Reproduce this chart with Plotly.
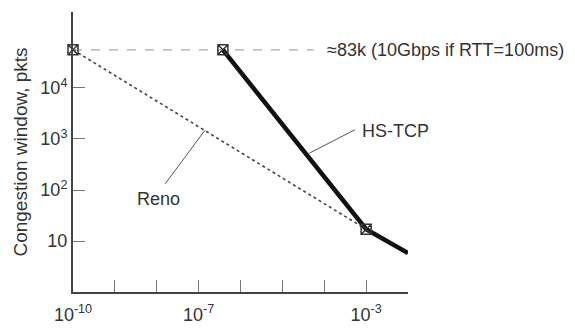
import plotly.graph_objects as go

# Data
reno_x = [1e-10, 1e-3]
reno_y = [56000, 17]
hstcp_x = [3.8e-7, 1e-3, 1e-2]
hstcp_y = [56000, 17, 5.8]
marker_x = [1e-10, 3.8e-7, 1e-3]
marker_y = [56000, 56000, 17]
cap_x = [1e-10, 5.6e-5]
cap_y = [56000, 56000]

x_tickvals = [1e-10, 1e-9, 1e-8, 1e-7, 1e-6, 1e-5, 1e-4, 1e-3]
x_ticktext = ["10<sup>-10</sup>", "", "", "10<sup>-7</sup>", "", "", "", "10<sup>-3</sup>"]
y_tickvals = [10, 100, 1000, 10000]
y_ticktext = ["10", "10<sup>2</sup>", "10<sup>3</sup>", "10<sup>4</sup>"]

FONT = "Liberation Sans, Arial, sans-serif"
TXT = "#333333"

fig = go.Figure()
fig.add_trace(go.Scatter(x=cap_x, y=cap_y, mode="lines",
                         line=dict(color="#aaaaaa", width=1.2, dash="dash"),
                         showlegend=False, hoverinfo="skip"))
fig.add_trace(go.Scatter(x=reno_x, y=reno_y, mode="lines",
                         line=dict(color="#444444", width=1.6, dash="dot"),
                         showlegend=False))
fig.add_trace(go.Scatter(x=hstcp_x, y=hstcp_y, mode="lines",
                         line=dict(color="#111111", width=4.5),
                         showlegend=False))
# leader lines
fig.add_trace(go.Scatter(x=[10**-3.27, 10**-4.36], y=[10**3.18, 10**2.72], mode="lines",
                         line=dict(color="#555555", width=1), showlegend=False, hoverinfo="skip"))
fig.add_trace(go.Scatter(x=[10**-7.80, 10**-6.85], y=[10**2.12, 10**3.17], mode="lines",
                         line=dict(color="#555555", width=1), showlegend=False, hoverinfo="skip"))
fig.add_trace(go.Scatter(x=marker_x, y=marker_y, mode="markers",
                         marker=dict(symbol="square-x-open", size=10, color="#333333",
                                     line=dict(width=1.5, color="#333333")),
                         showlegend=False, cliponaxis=False))

fig.add_annotation(x=-3.98, y=4.745, xref="x", yref="y", text="≈83k (10Gbps if RTT=100ms)",
                   showarrow=False, xanchor="left", yanchor="middle",
                   font=dict(family=FONT, size=18, color=TXT))
fig.add_annotation(x=-2.31, y=3.16, xref="x", yref="y", text="HS-TCP",
                   showarrow=False, xanchor="center", yanchor="middle",
                   font=dict(family=FONT, size=18, color=TXT))
fig.add_annotation(x=-7.97, y=1.82, xref="x", yref="y", text="Reno",
                   showarrow=False, xanchor="center", yanchor="middle",
                   font=dict(family=FONT, size=18, color=TXT))

fig.update_xaxes(type="log", range=[-10, -2], showgrid=False, zeroline=False,
                 showline=True, linecolor="#444444", linewidth=2, automargin=False,
                 ticks="inside", ticklen=12, tickcolor="#777777", tickwidth=1,
                 tickvals=x_tickvals, ticktext=x_ticktext, ticklabelstandoff=5,
                 tickfont=dict(family=FONT, size=18, color=TXT))
fig.update_yaxes(type="log", range=[0, 5.49], showgrid=False, zeroline=False,
                 showline=True, linecolor="#444444", linewidth=2, automargin=False,
                 ticks="inside", ticklen=12, tickcolor="#777777", tickwidth=1,
                 tickvals=y_tickvals, ticktext=y_ticktext,
                 tickfont=dict(family=FONT, size=18, color=TXT),
                 title=dict(text="Congestion window, pkts", standoff=8,
                            font=dict(family=FONT, size=19, color=TXT)))

fig.update_layout(width=575, height=329, margin=dict(l=73, r=167, t=12, b=37),
                  plot_bgcolor="white", paper_bgcolor="white",
                  font=dict(family=FONT, color=TXT))

fig.write_html("out.html", config={"displayModeBar": False},
               post_script="document.body.style.margin='0';document.body.style.padding='0';")
